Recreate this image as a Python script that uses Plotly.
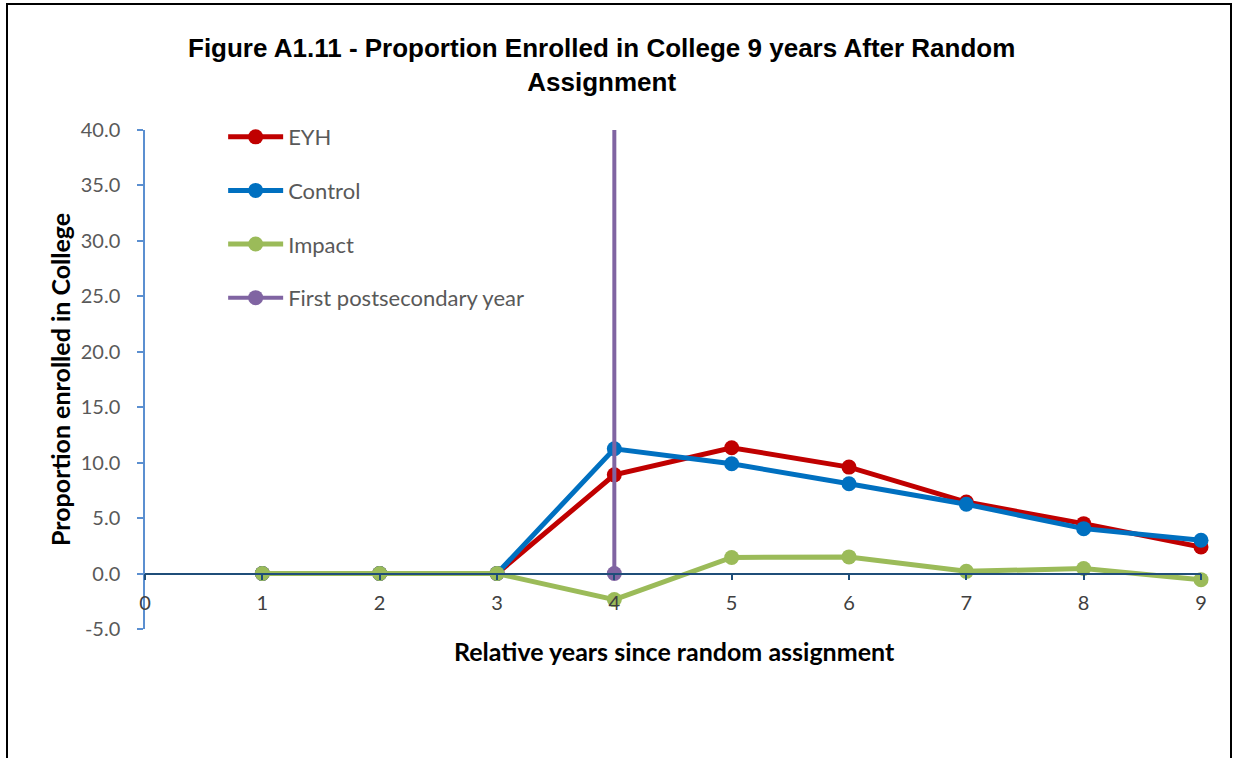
import plotly.graph_objects as go

# Relative years since random assignment
years = [1, 2, 3, 4, 5, 6, 7, 8, 9]

# Proportion enrolled in college (percent)
eyh = [0.0, 0.0, 0.0, 8.9, 11.35, 9.6, 6.45, 4.5, 2.4]
control = [0.0, 0.0, 0.0, 11.25, 9.9, 8.1, 6.25, 4.05, 3.0]
impact = [0.0, 0.0, 0.0, -2.35, 1.45, 1.5, 0.2, 0.45, -0.55]

# Marker line for the first postsecondary year
first_ps_x = [4, 4]
first_ps_y = [0, 40]

y_ticks = [-5, 0, 5, 10, 15, 20, 25, 30, 35, 40]
x_ticks = [0, 1, 2, 3, 4, 5, 6, 7, 8, 9]

TICK_FONT = "Lato, Carlito, Calibri, sans-serif"
TITLE_FONT = "Liberation Sans Narrow, Arial Narrow, Liberation Sans, Arial, sans-serif"

fig = go.Figure()

series = [
    ("EYH", years, eyh, "#C00000"),
    ("Control", years, control, "#0070C0"),
    ("Impact", years, impact, "#9BBB59"),
]
for i, (name, xs, ys, color) in enumerate(series):
    fig.add_trace(go.Scatter(
        x=xs, y=ys, name=name, mode="lines+markers",
        line=dict(color=color, width=5),
        marker=dict(color=color, size=15),
        legendgroup=f"g{i}",
        cliponaxis=False,
    ))

# only the bottom point of the vertical line carries a marker
fig.add_trace(go.Scatter(
    x=first_ps_x, y=first_ps_y, name="First postsecondary year",
    mode="lines+markers",
    line=dict(color="#8064A2", width=4),
    marker=dict(color="#8064A2", size=15),
    selectedpoints=[0],
    unselected=dict(marker=dict(opacity=0)),
    legendgroup="g3",
    cliponaxis=False,
))

fig.update_layout(
    width=1234, height=758,
    margin=dict(l=145, r=33, t=130, b=129),
    paper_bgcolor="white", plot_bgcolor="white",
    showlegend=True,
    legend=dict(
        x=0.074, y=1.028, xanchor="left", yanchor="top",
        font=dict(family=TICK_FONT, size=22, color="#595959"),
        tracegroupgap=22, bgcolor="rgba(0,0,0,0)",
        itemwidth=55,
    ),
    xaxis=dict(
        range=[0, 9], tickvals=x_ticks, ticktext=[str(v) for v in x_ticks],
        anchor="free", position=5 / 45,
        showline=True, linecolor="#1F4E79", linewidth=1.5,
        ticks="outside", ticklen=6, tickcolor="#1F4E79", tickwidth=1.5,
        ticklabelstandoff=6,
        showgrid=False, zeroline=False,
        tickfont=dict(family=TICK_FONT, size=20, color="#404040"),
    ),
    yaxis=dict(
        range=[-5, 40], tickvals=y_ticks,
        ticktext=[f"{v:.1f}" for v in y_ticks],
        showline=True, linecolor="#5B8FD0", linewidth=1.5,
        ticks="outside", ticklen=6, tickcolor="#5B8FD0", tickwidth=1.5,
        ticklabelstandoff=13,
        showgrid=False, zeroline=False,
        tickfont=dict(family=TICK_FONT, size=20, color="#595959"),
    ),
    annotations=[
        dict(
            text="<b>Figure A1.11 - Proportion Enrolled in College 9 years After Random<br>Assignment</b>",
            xref="paper", yref="paper", x=(601 - 145) / 1056, y=(629 - 65) / 499,
            xanchor="center", yanchor="middle", showarrow=False,
            font=dict(family=TITLE_FONT, size=26, color="black"),
        ),
        dict(
            text="<b>Relative years since random assignment</b>",
            xref="paper", yref="paper", x=(674 - 145) / 1056, y=(629 - 651) / 499,
            xanchor="center", yanchor="middle", showarrow=False,
            font=dict(family=TICK_FONT, size=25, color="black"),
        ),
        dict(
            text="<b>Proportion enrolled in College</b>",
            xref="paper", yref="paper", x=(60 - 145) / 1056, y=(629 - 380) / 499,
            xanchor="center", yanchor="middle", showarrow=False, textangle=-90,
            font=dict(family=TICK_FONT, size=25, color="black"),
        ),
    ],
    shapes=[
        dict(
            type="rect", xref="paper", yref="paper",
            x0=(7 - 145) / 1056, x1=(1231 - 145) / 1056,
            y0=(629 - 790) / 499, y1=(629 - 4) / 499,
            line=dict(color="black", width=2), fillcolor="rgba(0,0,0,0)",
        ),
    ],
)

fig.write_html("out.html")
